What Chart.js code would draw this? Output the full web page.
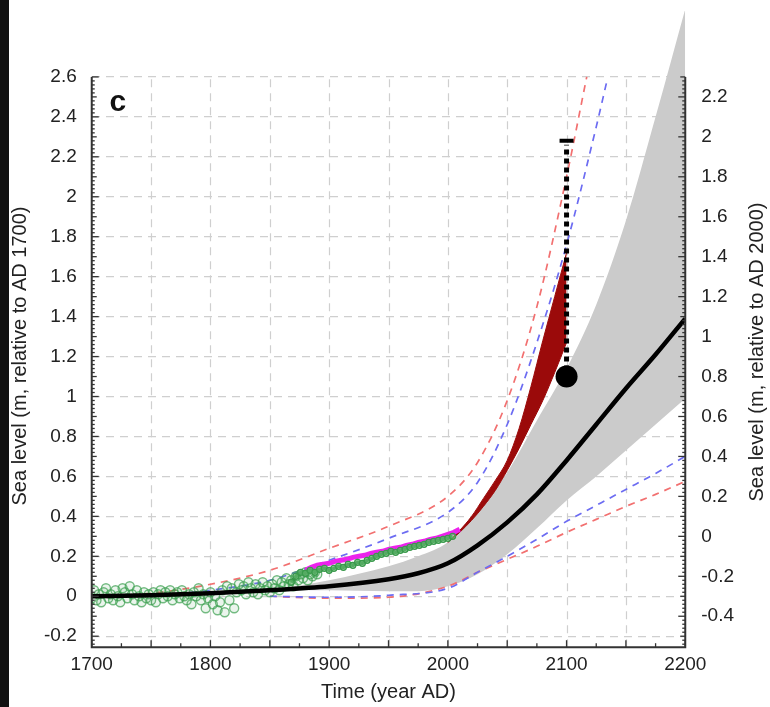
<!DOCTYPE html>
<html>
<head>
<meta charset="utf-8">
<script src="https://cdn.jsdelivr.net/npm/chart.js@4"></script>
<style>
  html, body { margin: 0; padding: 0; background: #fff; }
  #wrap { position: relative; width: 770px; height: 707px; }
  #strip { position: absolute; left: 0; top: 0; width: 9px; height: 707px; background: #111; }
</style>
</head>
<body>
<div id="wrap">
  <canvas id="canvas" width="770" height="707"></canvas>
  <div id="strip"></div>
</div>
<script>
Chart.defaults.font.family = "'Liberation Sans', Arial, sans-serif";
Chart.defaults.color = '#222';

// proxy reconstruction (green circles)
const proxyYears = [1700,1702,1704,1706,1708,1710,1712,1714,1716,1718,
                    1720,1722,1724,1726,1728,1730,1732,1734,1736,1738,
                    1740,1742,1744,1746,1748,1750,1752,1754,1756,1758,
                    1760,1762,1764,1766,1768,1770,1772,1774,1776,1778,
                    1780,1782,1784,1786,1788,1790,1792,1794,1796,1798,
                    1800,1802,1804,1806,1808,1810,1812,1814,1816,1818,
                    1820,1822,1824,1826,1828,1830,1832,1834,1836,1838,
                    1840,1842,1844,1846,1848,1850,1852,1854,1856,1858,
                    1860,1862,1864,1866,1868,1870,1872,1874,1876,1878,
                    1880,1882,1884,1886,1888,1890];
const proxyLevel = [-0.01,0.03,-0.02,0.01,-0.03,0.02,0.04,-0.01,0.01,-0.02,
                    0.03,0.0,-0.03,0.04,0.02,-0.01,0.05,0.01,-0.02,0.03,
                    0.0,-0.03,0.02,-0.01,0.01,-0.02,0.02,-0.03,0.01,0.03,
                    -0.01,0.02,0.0,0.03,-0.02,0.01,0.02,-0.01,0.03,0.0,
                    -0.02,0.01,-0.04,0.02,0.0,0.04,-0.02,0.01,-0.06,-0.01,
                    0.02,-0.04,0.0,-0.07,-0.03,0.03,-0.08,0.05,-0.02,0.04,
                    -0.06,0.02,0.06,0.03,0.05,0.01,0.07,0.04,0.02,0.06,
                    0.01,0.04,0.07,0.03,0.05,0.02,0.06,0.04,0.08,0.03,
                    0.07,0.05,0.09,0.06,0.08,0.05,0.1,0.08,0.11,0.09,
                    0.12,0.08,0.11,0.1,0.12,0.11];

// tide gauge composite (green line)
const gaugeYears = [1868,1872,1876,1880,1884,1888,1892,1896,1900,1904,1908,1912,1916,1920,1924,1928,1932,1936,
                    1940,1944,1948,1952,1956,1960,1964,1968,1972,1976,1980,1984,1988,1992,1996,2000,2004];
const gaugeLevel = [0.07,0.1,0.12,0.115,0.13,0.12,0.135,0.14,0.13,0.14,0.15,0.145,0.16,0.155,0.17,0.165,0.18,0.19,
                    0.2,0.21,0.215,0.225,0.22,0.23,0.235,0.245,0.25,0.255,0.26,0.27,0.275,0.28,0.285,0.29,0.3];

// tide gauge record (magenta)
const tideYears = [1880,1885,1890,1895,1900,1905,1910,1915,1920,1925,1930,1935,1940,1945,
                   1950,1955,1960,1965,1970,1975,1980,1985,1990,1995,2000,2005,2010];
const tideLevel = [0.13,0.145,0.155,0.16,0.165,0.175,0.18,0.185,0.195,0.2,0.205,0.215,0.22,0.225,
                   0.235,0.24,0.245,0.255,0.26,0.27,0.275,0.285,0.29,0.3,0.31,0.32,0.335];

// model central estimate (black)
const modelYears = [1700,1750,1800,1850,1900,1950,1975,2000,2025,2050,2075,2100,2125,2150,2175,2200];
const modelLevel = [0,0.005,0.015,0.03,0.05,0.085,0.115,0.165,0.255,0.37,0.51,0.68,0.86,1.04,1.21,1.39];

// model uncertainty band (grey)
const bandYears = [1850,1900,1950,1975,2000,2025,2050,2075,2100,2125,2150,2175,2200];
const bandLow   = [0.03,0.03,0.025,0.025,0.05,0.11,0.21,0.34,0.48,0.6,0.73,0.86,0.99];
const bandHigh  = [0.03,0.08,0.15,0.2,0.27,0.42,0.62,0.88,1.14,1.46,1.88,2.4,2.94];

// dashed envelopes
const redUpYears  = [1700,1750,1800,1850,1900,1950,2000,2025,2050,2075,2100,2117];
const redUp       = [0.0,0.015,0.06,0.13,0.24,0.35,0.5,0.67,0.98,1.45,2.1,2.6];
const blueUpYears = [1750,1800,1850,1900,1950,2000,2025,2050,2075,2100,2125,2134];
const blueUp      = [0.0,0.03,0.08,0.18,0.29,0.42,0.57,0.86,1.27,1.76,2.35,2.58];
const lowYears    = [1850,1900,1950,2000,2025,2050,2075,2100,2125,2150,2175,2200];
const blueLow     = [0.0,-0.005,0.005,0.04,0.12,0.2,0.285,0.375,0.455,0.535,0.615,0.7];
const redLow      = [0.0,-0.01,-0.005,0.05,0.12,0.185,0.25,0.32,0.385,0.45,0.51,0.575];

// dark red wedge
const wedgeYears = [2000,2010,2020,2030,2040,2050,2060,2070,2080,2090,2100];
const wedgeLow   = [0.27,0.32,0.38,0.45,0.53,0.63,0.74,0.86,0.98,1.12,1.27];
const wedgeHigh  = [0.27,0.33,0.4,0.49,0.58,0.68,0.84,1.05,1.28,1.5,1.72];

// AD 2100 estimate with error bar
const estYears = [2100];
const estLevel = [1.1];
const errYears = [2100, 2100];
const errLevel = [1.13, 2.26];
const capLevel = [2.28];

// axes
const xTicks = [1700,1725,1750,1775,1800,1825,1850,1875,1900,1925,1950,1975,2000,2025,2050,2075,2100,2125,2150,2175,2200];
const xGrid = [1750,1800,1850,1900,1950,2000,2050,2100,2150];
const leftTicks = [-0.2,0,0.2,0.4,0.6,0.8,1,1.2,1.4,1.6,1.8,2,2.2,2.4,2.6];
const rightTicks = [-0.4,-0.2,0,0.2,0.4,0.6,0.8,1,1.2,1.4,1.6,1.8,2,2.2];
const rightShift = 0.3;
const yMin = -0.255, yMax = 2.93;

function pts(xs, ys) {
    return xs.map((x, i) => ({x: x, y: ys[i]}));
}
function fmt(v) {
    const r = Math.round(v * 10) / 10;
    return r === 0 ? '0' : String(r);
}

const frame = {
    id: 'frame',
    beforeDatasetsDraw(chart) {
        const {ctx, chartArea, scales} = chart;
        const top = scales.y.getPixelForValue(2.6);
        ctx.save();
        ctx.strokeStyle = '#cfcfcf';
        ctx.lineWidth = 1.2;
        ctx.setLineDash([8, 6]);
        xGrid.forEach(v => {
            const px = Math.round(scales.x.getPixelForValue(v)) + 0.5;
            ctx.beginPath();
            ctx.moveTo(px, chartArea.bottom);
            ctx.lineTo(px, top);
            ctx.stroke();
        });
        ctx.restore();
    },
    afterDatasetsDraw(chart) {
        const {ctx, chartArea: a, scales: {x, y, y2}} = chart;
        const top = y.getPixelForValue(2.6);
        const seg = (x1, y1, x2, y2_) => { ctx.beginPath(); ctx.moveTo(x1, y1); ctx.lineTo(x2, y2_); ctx.stroke(); };
        ctx.save();
        ctx.strokeStyle = '#333';
        ctx.lineWidth = 2;
        ctx.beginPath();
        ctx.moveTo(a.left, top);
        ctx.lineTo(a.left, a.bottom);
        ctx.lineTo(a.right, a.bottom);
        ctx.lineTo(a.right, top);
        ctx.stroke();

        ctx.lineWidth = 1.3;
        for (let yr = 1700; yr <= 2200; yr += 25) {
            const px = x.getPixelForValue(yr);
            seg(px, a.bottom, px, a.bottom - (yr % 50 === 0 ? 7 : 4));
        }
        for (let i = -12; i <= 130; i++) {
            const py = y.getPixelForValue(i / 50);
            if (py > a.bottom) continue;
            const len = i % 10 === 0 ? 7 : (i % 5 === 0 ? 5 : 3);
            seg(a.left, py, a.left + len, py);
        }
        for (let i = -27; i <= 115; i++) {
            const py = y2.getPixelForValue(i / 50);
            if (py > a.bottom || py < top - 0.5) continue;
            const len = i % 10 === 0 ? 7 : (i % 5 === 0 ? 5 : 3);
            seg(a.right, py, a.right - len, py);
        }

        // panel letter
        ctx.fillStyle = '#111';
        ctx.font = "bold 30px 'Liberation Sans', Arial, sans-serif";
        ctx.textAlign = 'center';
        ctx.textBaseline = 'middle';
        ctx.fillText('c', x.getPixelForValue(1722), y.getPixelForValue(2.47));

        // axis titles
        ctx.fillStyle = '#222';
        ctx.font = "20px 'Liberation Sans', Arial, sans-serif";
        ctx.save();
        ctx.translate(20, 356);
        ctx.rotate(-Math.PI / 2);
        ctx.fillText('Sea level (m, relative to AD 1700)', 0, 0);
        ctx.restore();
        ctx.save();
        ctx.translate(757, 352);
        ctx.rotate(-Math.PI / 2);
        ctx.fillText('Sea level (m, relative to AD 2000)', 0, 0);
        ctx.restore();
        ctx.restore();
    }
};

const dashed = (xs, ys, color, order) => ({
    data: pts(xs, ys),
    borderColor: color,
    borderWidth: 1.7,
    borderDash: [7, 6],
    pointRadius: 0,
    fill: false,
    cubicInterpolationMode: 'monotone',
    order: order
});

const noPad = s => { s.paddingTop = 0; s.paddingBottom = 0; };

new Chart(document.getElementById('canvas'), {
    type: 'line',
    data: {
        datasets: [
            // grey band
            { data: pts(bandYears, bandLow), borderWidth: 0, pointRadius: 0, fill: false,
              cubicInterpolationMode: 'monotone', order: 20 },
            { data: pts(bandYears, bandHigh), borderWidth: 0, pointRadius: 0, fill: '-1',
              backgroundColor: '#cbcbcb', cubicInterpolationMode: 'monotone', order: 19 },
            // dashed envelopes
            dashed(redUpYears, redUp, '#f27070', 15),
            dashed(blueUpYears, blueUp, '#6c6cf2', 14),
            dashed(lowYears, redLow, '#f27070', 15),
            dashed(lowYears, blueLow, '#6c6cf2', 14),
            // red wedge
            { data: pts(wedgeYears, wedgeLow), borderColor: '#9b0a0a', borderWidth: 1, pointRadius: 0,
              fill: false, cubicInterpolationMode: 'monotone', order: 12 },
            { data: pts(wedgeYears, wedgeHigh), borderColor: '#9b0a0a', borderWidth: 1, pointRadius: 0,
              fill: '-1', backgroundColor: '#9b0a0a', cubicInterpolationMode: 'monotone', order: 11 },
            // proxy circles
            { data: pts(proxyYears, proxyLevel), showLine: false, pointRadius: 4.5, pointBorderWidth: 1.4,
              pointBorderColor: 'rgba(60,160,80,0.7)', pointBackgroundColor: 'rgba(60,160,80,0.1)', order: 9 },
            // magenta tide gauge
            { data: pts(tideYears, tideLevel), borderColor: '#ec22ec', borderWidth: 5, pointRadius: 0,
              fill: false, order: 8 },
            // green gauge composite
            { data: pts(gaugeYears, gaugeLevel), borderColor: '#2f8f42', borderWidth: 3.5, pointRadius: 3,
              pointBorderWidth: 1.3, pointBorderColor: '#3a9a4c', pointBackgroundColor: 'rgba(110,190,120,0.6)',
              fill: false, order: 7 },
            // central model
            { data: pts(modelYears, modelLevel), borderColor: '#000', borderWidth: 4.5, pointRadius: 0,
              fill: false, cubicInterpolationMode: 'monotone', order: 5 },
            // 2100 error bar
            { data: pts(errYears, errLevel), borderColor: '#000', borderWidth: 5, borderDash: [5, 4],
              pointRadius: 0, fill: false, order: 3 },
            { data: pts(estYears, capLevel), showLine: false, pointStyle: 'line', pointRadius: 7,
              pointBorderWidth: 4, pointBorderColor: '#000', order: 2 },
            { data: pts(estYears, estLevel), showLine: false, pointRadius: 11, pointBorderWidth: 0,
              pointBackgroundColor: '#000', order: 1 }
        ]
    },
    options: {
        responsive: false,
        animation: false,
        layout: { padding: { left: 29, right: 20, top: 0, bottom: 5 } },
        plugins: {
            legend: { display: false },
            tooltip: { enabled: false }
        },
        scales: {
            x: {
                type: 'linear',
                min: 1700,
                max: 2200,
                afterBuildTicks: s => { s.ticks = xTicks.map(v => ({value: v})); },
                ticks: {
                    autoSkip: false,
                    maxRotation: 0,
                    padding: 6,
                    font: { size: 19 },
                    callback: v => (v % 100 === 0 ? String(v) : '')
                },
                grid: { display: false, drawTicks: false },
                border: { display: false },
                title: { display: true, text: 'Time (year AD)', font: { size: 20, lineHeight: 1 },
                         padding: { top: 0, bottom: 0 } }
            },
            y: {
                min: yMin,
                max: yMax,
                afterBuildTicks: s => { s.ticks = leftTicks.map(v => ({value: v})); },
                afterFit: noPad,
                ticks: { padding: 15, font: { size: 19 }, callback: v => fmt(v) },
                grid: { color: '#cfcfcf', lineWidth: 1.2, drawTicks: false },
                border: { display: false, dash: [8, 6] }
            },
            y2: {
                position: 'right',
                min: yMin - rightShift,
                max: yMax - rightShift,
                afterBuildTicks: s => { s.ticks = rightTicks.map(v => ({value: v})); },
                afterFit: noPad,
                ticks: { padding: 16, font: { size: 19 }, callback: v => fmt(v) },
                grid: { display: false, drawTicks: false },
                border: { display: false }
            }
        }
    },
    plugins: [frame]
});
</script>
</body>
</html>
